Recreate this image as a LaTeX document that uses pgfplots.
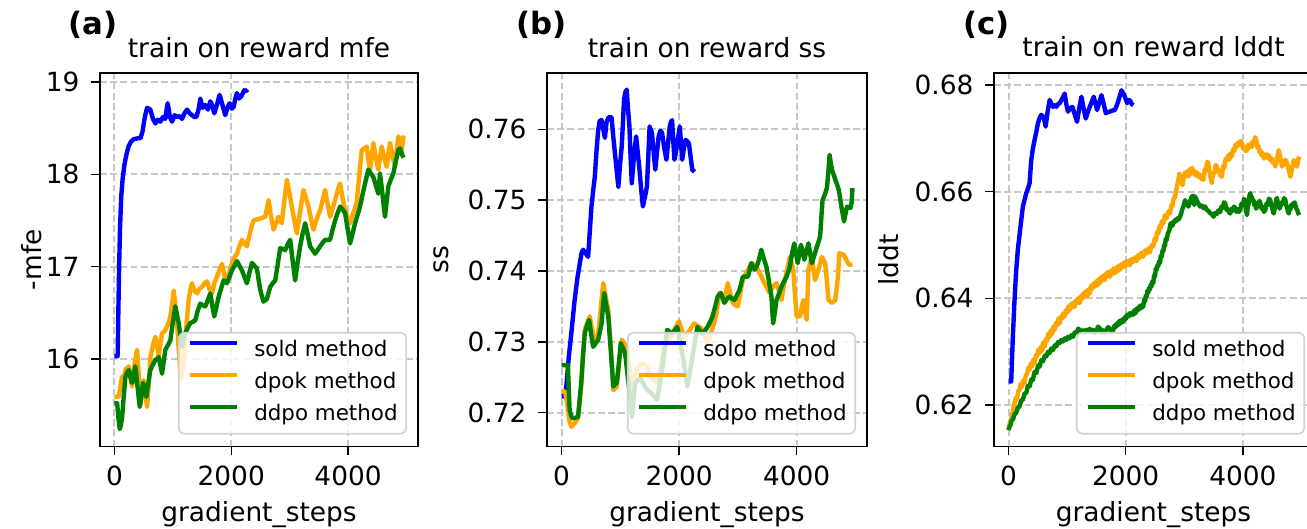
\documentclass[border=0pt]{standalone}
\usepackage{fontspec}
\setmainfont{DejaVu Sans}
\usepackage{pgfplots}
\pgfplotsset{compat=1.18}

\definecolor{cblue}{RGB}{0,0,255}
\definecolor{corange}{RGB}{255,165,0}
\definecolor{cgreen}{RGB}{0,128,0}
\definecolor{gridgray}{RGB}{200,200,200}
\definecolor{leggray}{RGB}{210,210,210}

\newcommand{\tf}{\fontsize{13.2}{15.8}\selectfont}
\newcommand{\lf}{\fontsize{10.7}{12.8}\selectfont}
\newcommand{\pf}{\bfseries\fontsize{15.4}{18}\selectfont}

\pgfplotsset{
  every axis title shift=0pt,
  myaxis/.style={
    scale only axis, height=186.75pt,
    xmin=-247.5, xmax=5197.5,
    xtick={0,2000,4000}, xticklabels={0,2000,4000},
    scaled ticks=false,
    tick align=outside, tick pos=left, major tick length=4.5pt,
    tick style={black, line width=0.75pt},
    axis line style={black, line width=0.75pt},
    grid=major,
    grid style={gridgray, line width=1pt, dash pattern=on 3.4pt off 1.7pt},
    xticklabel style={font=\tf, inner sep=0pt, anchor=base, yshift=-15.25pt},
    yticklabel style={font=\tf, inner sep=0pt, anchor=east, xshift=-5.6pt},
    xlabel={gradient\_steps},
    xlabel style={font=\tf, at={(axis description cs:0.5,-0.2021)}, anchor=base},
    title style={font=\tf, at={(axis description cs:0.5,1.0428)}, anchor=base},
    ylabel style={font=\tf, anchor=center},
    legend cell align=left,
    legend style={anchor=south east, draw=leggray, line width=0.8pt,
      rounded corners=3pt, fill=white, fill opacity=0.8, text opacity=1,
      font=\lf, inner xsep=4.3pt, inner ysep=3pt, row sep=3.5pt, column sep=7.8pt,
      nodes={inner xsep=0pt, inner ysep=1pt, text height=8pt, text depth=2.5pt}},
    legend image code/.code={\draw[#1] (0pt,4.1pt) -- (23.5pt,4.1pt);},
    every axis plot/.append style={line width=2.2pt, line join=round},
  }
}

\begin{document}
\begin{tikzpicture}

% ---------------- (a) ----------------
\begin{axis}[myaxis, at={(50pt,41.25pt)}, anchor=south west, width=159pt,
  ymin=15.052, ymax=19.097,
  ytick={16,17,18,19}, yticklabels={16,17,18,19},
  title={train on reward mfe},
  ylabel={-mfe}, ylabel style={at={(axis description cs:-0.2138,0.5)}},
  legend style={at={(axis description cs:0.9654,0.0321)}}]
\addplot[cblue] coordinates {
(0,16.03) (55,16.03) (65,16.45) (80,17.0) (95,17.4) (115,17.75) (140,17.95) (170,18.1) (200,18.2) (240,18.3) (280,18.35) (330,18.38) (400,18.39) (444,18.39) (480,18.46) (520,18.62) (559,18.72) (615,18.70) (660,18.6) (701,18.55) (740,18.59) (786,18.57) (830,18.62) (870,18.6) (911,18.77) (950,18.62) (986,18.57) (1030,18.64) (1071,18.62) (1110,18.63) (1157,18.60) (1200,18.66) (1243,18.70) (1290,18.66) (1328,18.64) (1370,18.62) (1402,18.62) (1440,18.7) (1470,18.82) (1510,18.72) (1556,18.75) (1600,18.70) (1641,18.79) (1680,18.74) (1709,18.66) (1750,18.74) (1800,18.86) (1850,18.75) (1897,18.64) (1935,18.72) (1972,18.77) (2010,18.71) (2040,18.73) (2070,18.82) (2097,18.88) (2130,18.82) (2166,18.84) (2200,18.88) (2222,18.91) (2250,18.90) (2279,18.92)
};
\addlegendentry{sold method}
\addplot[corange] coordinates {
(0,15.59) (74,15.59) (100,15.70) (131,15.81) (160,15.78) (188,15.88) (215,15.90) (245,15.92) (275,15.80) (302,15.70) (345,15.95) (387,16.10) (415,15.85) (444,15.50) (470,15.62) (501,15.77) (530,15.62) (559,15.48) (590,15.75) (615,16.02) (660,16.15) (701,16.24) (730,16.15) (758,16.02) (790,16.18) (815,16.28) (860,16.30) (900,16.35) (930,16.40) (957,16.46) (990,16.60) (1014,16.74) (1040,16.60) (1071,16.40) (1100,16.10) (1135,15.78) (1160,15.85) (1185,15.99) (1230,16.35) (1271,16.64) (1300,16.75) (1328,16.82) (1370,16.74) (1413,16.71) (1455,16.76) (1499,16.78) (1540,16.82) (1584,16.84) (1625,16.76) (1670,16.71) (1710,16.82) (1755,16.89) (1800,16.97) (1841,17.03) (1885,16.90) (1926,16.82) (1970,16.95) (2012,17.04) (2055,17.10) (2097,17.14) (2140,17.22) (2183,17.29) (2225,17.25) (2268,17.22) (2325,17.38) (2382,17.50) (2440,17.51) (2496,17.52) (2540,17.53) (2581,17.54) (2610,17.63) (2638,17.72) (2680,17.55) (2724,17.40) (2765,17.47) (2809,17.54) (2840,17.50) (2866,17.47) (2910,17.72) (2952,17.94) (2995,17.80) (3037,17.65) (3080,17.50) (3123,17.36) (3180,17.60) (3236,17.83) (3280,17.74) (3322,17.65) (3365,17.52) (3407,17.40) (3465,17.52) (3521,17.61) (3565,17.72) (3607,17.83) (3650,17.68) (3692,17.54) (3735,17.63) (3778,17.72) (3820,17.82) (3863,17.90) (3905,17.75) (3949,17.61) (3990,17.54) (4034,17.47) (4090,17.58) (4148,17.69) (4190,17.98) (4234,18.26) (4275,18.28) (4319,18.30) (4350,18.15) (4376,18.05) (4405,18.20) (4433,18.34) (4475,18.18) (4518,18.05) (4548,18.18) (4576,18.30) (4620,18.18) (4661,18.08) (4690,18.22) (4718,18.34) (4760,18.20) (4803,18.08) (4832,18.25) (4860,18.41) (4890,18.32) (4915,18.22) (4935,18.35) (4950,18.42)
};
\addlegendentry{dpok method}
\addplot[cgreen] coordinates {
(0,15.52) (46,15.52) (70,15.35) (91,15.24) (110,15.28) (131,15.37) (160,15.60) (188,15.81) (215,15.85) (245,15.88) (275,15.80) (302,15.74) (330,15.84) (359,15.92) (395,15.70) (433,15.48) (460,15.60) (490,15.74) (520,15.66) (547,15.59) (580,15.74) (615,15.88) (660,15.94) (701,15.99) (730,16.00) (758,16.02) (790,15.92) (815,15.84) (845,15.98) (872,16.10) (915,16.15) (957,16.20) (1000,16.40) (1043,16.57) (1070,16.48) (1100,16.39) (1130,16.25) (1157,16.13) (1185,16.20) (1214,16.28) (1255,16.34) (1299,16.39) (1340,16.40) (1385,16.42) (1425,16.52) (1470,16.60) (1515,16.58) (1556,16.57) (1600,16.64) (1641,16.71) (1675,16.58) (1709,16.46) (1745,16.56) (1783,16.67) (1825,16.76) (1869,16.85) (1900,16.84) (1926,16.82) (1970,16.89) (2012,16.96) (2055,17.01) (2097,17.06) (2140,17.01) (2183,16.96) (2225,16.89) (2268,16.82) (2310,16.93) (2354,17.04) (2395,17.01) (2439,16.98) (2468,16.86) (2496,16.75) (2525,16.68) (2552,16.62) (2610,16.65) (2667,16.78) (2710,16.82) (2752,16.85) (2795,17.02) (2838,17.20) (2880,17.19) (2923,17.18) (2965,17.24) (3009,17.29) (3050,17.07) (3094,16.85) (3135,17.04) (3179,17.22) (3220,17.35) (3265,17.47) (3308,17.35) (3350,17.22) (3393,17.18) (3436,17.14) (3480,17.18) (3521,17.22) (3565,17.26) (3607,17.29) (3650,17.29) (3692,17.29) (3735,17.40) (3778,17.50) (3820,17.58) (3863,17.65) (3905,17.62) (3949,17.58) (3990,17.42) (4034,17.25) (4078,17.36) (4120,17.47) (4163,17.56) (4205,17.65) (4248,17.78) (4291,17.90) (4320,17.98) (4348,18.05) (4390,18.01) (4433,17.97) (4475,17.88) (4518,17.79) (4547,18.01) (4590,17.78) (4632,17.54) (4660,17.70) (4690,17.87) (4730,17.94) (4775,18.01) (4818,18.14) (4860,18.26) (4890,18.28) (4920,18.22) (4950,18.18)
};
\addlegendentry{ddpo method}
\end{axis}

% ---------------- (b) ----------------
\begin{axis}[myaxis, at={(273.5pt,41.25pt)}, anchor=south west, width=160pt,
  ymin=0.71523, ymax=0.76795,
  ytick={0.72,0.73,0.74,0.75,0.76}, yticklabels={0.72,0.73,0.74,0.75,0.76},
  title={train on reward ss},
  ylabel={ss}, ylabel style={at={(axis description cs:-0.331,0.5)}},
  legend style={at={(axis description cs:0.9656,0.0321)}}]
\addplot[cblue] coordinates {
(0,0.7223) (51,0.7223) (81,0.7237) (125,0.7280) (166,0.7312) (223,0.7359) (270,0.7390) (309,0.7410) (340,0.7425) (366,0.7430) (410,0.7425) (452,0.7420) (480,0.7455) (509,0.7491) (540,0.7515) (566,0.7533) (595,0.7570) (624,0.7599) (650,0.7612) (681,0.7613) (710,0.7600) (738,0.7588) (765,0.7610) (795,0.7616) (825,0.7618) (852,0.7616) (880,0.7590) (909,0.7566) (940,0.7540) (967,0.7519) (995,0.7550) (1024,0.7576) (1045,0.7610) (1063,0.7642) (1085,0.7652) (1109,0.7656) (1130,0.7630) (1155,0.7604) (1175,0.7560) (1195,0.7524) (1230,0.7560) (1269,0.7590) (1300,0.7565) (1326,0.7543) (1355,0.7515) (1384,0.7491) (1420,0.7505) (1453,0.7519) (1475,0.7560) (1498,0.7604) (1538,0.7595) (1565,0.7570) (1595,0.7543) (1625,0.7568) (1652,0.7590) (1680,0.7598) (1710,0.7595) (1745,0.7575) (1784,0.7557) (1812,0.7580) (1841,0.7604) (1860,0.7610) (1881,0.7613) (1900,0.7585) (1921,0.7557) (1945,0.7568) (1967,0.7580) (1990,0.7592) (2012,0.7604) (2033,0.7580) (2053,0.7557) (2080,0.7572) (2110,0.7585) (2140,0.7583) (2167,0.7580) (2195,0.7562) (2224,0.7543) (2264,0.7540)
};
\addlegendentry{sold method}
\addplot[corange] coordinates {
(0,0.7230) (60,0.7230) (100,0.7210) (130,0.7190) (166,0.7180) (223,0.7185) (280,0.7192) (310,0.7215) (338,0.7240) (365,0.7280) (395,0.7317) (440,0.7328) (481,0.7336) (520,0.7318) (560,0.7300) (590,0.7305) (623,0.7310) (665,0.7345) (709,0.7383) (750,0.7364) (795,0.7345) (840,0.7290) (881,0.7232) (910,0.7234) (939,0.7236) (980,0.7270) (1024,0.7303) (1067,0.7298) (1110,0.7293) (1155,0.7265) (1197,0.7237) (1240,0.7249) (1282,0.7260) (1325,0.7265) (1368,0.7270) (1410,0.7268) (1454,0.7265) (1480,0.7258) (1511,0.7251) (1570,0.7247) (1626,0.7242) (1685,0.7265) (1740,0.7289) (1800,0.7298) (1854,0.7307) (1925,0.7318) (1997,0.7329) (2040,0.7318) (2083,0.7307) (2130,0.7311) (2170,0.7315) (2210,0.7320) (2254,0.7326) (2310,0.7323) (2370,0.7320) (2430,0.7309) (2484,0.7298) (2560,0.7317) (2627,0.7336) (2655,0.7352) (2684,0.7369) (2725,0.7364) (2769,0.7359) (2800,0.7371) (2827,0.7383) (2870,0.7369) (2913,0.7355) (2955,0.7352) (2999,0.7350) (3040,0.7368) (3085,0.7387) (3140,0.7397) (3199,0.7406) (3256,0.7411) (3300,0.7406) (3342,0.7402) (3385,0.7395) (3428,0.7387) (3485,0.7378) (3542,0.7369) (3571,0.7374) (3600,0.7378) (3657,0.7383) (3700,0.7371) (3743,0.7359) (3770,0.7373) (3800,0.7387) (3845,0.7404) (3885,0.7420) (3915,0.7411) (3942,0.7402) (3970,0.7369) (4000,0.7336) (4057,0.7336) (4085,0.7348) (4114,0.7359) (4140,0.7345) (4171,0.7331) (4186,0.7366) (4200,0.7402) (4230,0.7411) (4257,0.7420) (4285,0.7403) (4314,0.7387) (4345,0.7395) (4372,0.7402) (4400,0.7411) (4429,0.7420) (4460,0.7415) (4486,0.7411) (4515,0.7385) (4543,0.7359) (4570,0.7357) (4601,0.7355) (4630,0.7357) (4658,0.7359) (4680,0.7375) (4704,0.7392) (4726,0.7425) (4765,0.7424) (4802,0.7423) (4845,0.7416) (4888,0.7409) (4950,0.7409)
};
\addlegendentry{dpok method}
\addplot[cgreen] coordinates {
(0,0.7267) (108,0.7267) (137,0.7204) (165,0.7195) (194,0.7192) (240,0.7193) (280,0.7194) (310,0.7220) (338,0.7246) (365,0.7280) (395,0.7312) (430,0.7322) (469,0.7331) (505,0.7310) (538,0.7293) (580,0.7298) (623,0.7303) (655,0.7315) (681,0.7326) (705,0.7350) (726,0.7369) (760,0.7352) (795,0.7336) (840,0.7285) (881,0.7237) (910,0.7240) (939,0.7242) (975,0.7270) (1008,0.7298) (1045,0.7291) (1082,0.7284) (1110,0.7263) (1139,0.7242) (1170,0.7218) (1197,0.7194) (1225,0.7218) (1253,0.7242) (1300,0.7246) (1340,0.7250) (1385,0.7242) (1430,0.7235) (1475,0.7231) (1520,0.7228) (1575,0.7223) (1626,0.7218) (1670,0.7240) (1711,0.7260) (1755,0.7290) (1797,0.7317) (1840,0.7314) (1883,0.7312) (1925,0.7316) (1969,0.7321) (2012,0.7302) (2055,0.7284) (2100,0.7260) (2141,0.7237) (2185,0.7258) (2226,0.7279) (2270,0.7300) (2312,0.7321) (2355,0.7316) (2398,0.7312) (2440,0.7316) (2484,0.7321) (2527,0.7328) (2570,0.7336) (2615,0.7350) (2656,0.7364) (2712,0.7369) (2740,0.7362) (2769,0.7355) (2810,0.7360) (2855,0.7364) (2900,0.7361) (2941,0.7359) (2985,0.7366) (3027,0.7373) (3055,0.7382) (3085,0.7392) (3130,0.7392) (3171,0.7392) (3200,0.7401) (3227,0.7411) (3255,0.7406) (3285,0.7402) (3315,0.7406) (3342,0.7411) (3370,0.7420) (3399,0.7430) (3440,0.7418) (3485,0.7406) (3530,0.7385) (3571,0.7364) (3600,0.7326) (3630,0.7342) (3657,0.7359) (3700,0.7368) (3743,0.7378) (3785,0.7385) (3828,0.7392) (3860,0.7399) (3885,0.7406) (3903,0.7416) (3930,0.7428) (3961,0.7439) (3990,0.7425) (4017,0.7411) (4045,0.7424) (4074,0.7437) (4103,0.7427) (4132,0.7416) (4165,0.7428) (4201,0.7439) (4230,0.7425) (4258,0.7411) (4300,0.7422) (4343,0.7434) (4372,0.7441) (4400,0.7449) (4420,0.7475) (4441,0.7500) (4480,0.7508) (4515,0.7517) (4540,0.7540) (4561,0.7564) (4580,0.7553) (4601,0.7543) (4630,0.7536) (4658,0.7529) (4688,0.7522) (4716,0.7515) (4740,0.7503) (4761,0.7491) (4785,0.7480) (4807,0.7470) (4832,0.7481) (4858,0.7491) (4885,0.7490) (4915,0.7489) (4935,0.7496) (4950,0.7517)
};
\addlegendentry{ddpo method}
\end{axis}

% ---------------- (c) ----------------
\begin{axis}[myaxis, at={(497pt,41.25pt)}, anchor=south west, width=159.5pt,
  ymin=0.61222, ymax=0.68225,
  ytick={0.62,0.64,0.66,0.68}, yticklabels={0.62,0.64,0.66,0.68},
  title={train on reward lddt},
  ylabel={lddt}, ylabel style={at={(axis description cs:-0.3292,0.5)}},
  legend style={at={(axis description cs:0.975,0.0321)}}]
\addplot[cblue] coordinates {
(0,0.6244) (46,0.6244) (75,0.6330) (103,0.6397) (130,0.6450) (159,0.6491) (200,0.6530) (245,0.6572) (275,0.6585) (302,0.6597) (330,0.6605) (360,0.6616) (388,0.6659) (415,0.6680) (445,0.6697) (475,0.6712) (502,0.6728) (530,0.6738) (559,0.6744) (600,0.6740) (634,0.6722) (665,0.6748) (702,0.6772) (730,0.6765) (759,0.6759) (790,0.6762) (816,0.6759) (845,0.6764) (873,0.6766) (915,0.6774) (959,0.6784) (985,0.6765) (1016,0.6750) (1050,0.6756) (1091,0.6759) (1130,0.6745) (1170,0.6731) (1205,0.6755) (1245,0.6778) (1280,0.6757) (1318,0.6737) (1350,0.6748) (1387,0.6759) (1420,0.6768) (1455,0.6778) (1485,0.6765) (1512,0.6753) (1550,0.6767) (1587,0.6781) (1625,0.6764) (1661,0.6747) (1695,0.6749) (1729,0.6750) (1770,0.6752) (1815,0.6753) (1845,0.6761) (1872,0.6769) (1900,0.6780) (1929,0.6790) (1960,0.6784) (1986,0.6778) (2026,0.6766) (2055,0.6772) (2080,0.6770) (2105,0.6764) (2129,0.6762)
};
\addlegendentry{sold method}
\addplot[corange] coordinates {
(0,0.6153) (25,0.6168) (46,0.6172) (60,0.6184) (75,0.6186) (90,0.6200) (103,0.6203) (125,0.6214) (145,0.6210) (165,0.6226) (188,0.6228) (210,0.6240) (230,0.6234) (250,0.6246) (274,0.6241) (295,0.6256) (315,0.6258) (340,0.6270) (360,0.6266) (380,0.6278) (400,0.6272) (420,0.6285) (445,0.6278) (470,0.6294) (490,0.6292) (510,0.6304) (531,0.6297) (555,0.6310) (575,0.6302) (595,0.6318) (616,0.6309) (640,0.6324) (660,0.6320) (680,0.6334) (702,0.6328) (725,0.6340) (745,0.6333) (765,0.6347) (788,0.6341) (810,0.6354) (830,0.6349) (850,0.6362) (873,0.6353) (895,0.6366) (915,0.6362) (935,0.6372) (959,0.6366) (980,0.6378) (1000,0.6373) (1020,0.6385) (1045,0.6378) (1070,0.6390) (1090,0.6383) (1110,0.6392) (1130,0.6384) (1150,0.6396) (1175,0.6391) (1195,0.6401) (1216,0.6391) (1240,0.6405) (1260,0.6399) (1280,0.6410) (1301,0.6403) (1325,0.6414) (1345,0.6403) (1365,0.6417) (1387,0.6409) (1410,0.6424) (1430,0.6418) (1450,0.6428) (1473,0.6422) (1495,0.6432) (1515,0.6424) (1535,0.6436) (1558,0.6428) (1580,0.6440) (1600,0.6433) (1620,0.6443) (1644,0.6434) (1665,0.6447) (1685,0.6441) (1705,0.6450) (1729,0.6440) (1750,0.6452) (1770,0.6445) (1790,0.6456) (1815,0.6447) (1840,0.6458) (1860,0.6450) (1880,0.6461) (1901,0.6453) (1925,0.6464) (1945,0.6458) (1965,0.6467) (1986,0.6459) (2010,0.6470) (2030,0.6463) (2050,0.6471) (2072,0.6462) (2100,0.6474) (2130,0.6468) (2160,0.6477) (2186,0.6470) (2215,0.6481) (2245,0.6476) (2270,0.6486) (2300,0.6478) (2330,0.6490) (2360,0.6484) (2390,0.6494) (2414,0.6486) (2445,0.6500) (2471,0.6497) (2495,0.6512) (2515,0.6508) (2535,0.6524) (2557,0.6522) (2580,0.6536) (2600,0.6532) (2620,0.6545) (2643,0.6541) (2670,0.6556) (2700,0.6550) (2730,0.6563) (2757,0.6559) (2780,0.6575) (2800,0.6572) (2820,0.6588) (2842,0.6590) (2870,0.6606) (2899,0.6622) (2916,0.6634) (2935,0.6618) (2950,0.6625) (2970,0.6612) (2985,0.6622) (3010,0.6636) (3030,0.6630) (3050,0.6638) (3070,0.6628) (3090,0.6642) (3115,0.6633) (3135,0.6645) (3156,0.6634) (3180,0.6638) (3200,0.6630) (3220,0.6636) (3241,0.6628) (3265,0.6632) (3285,0.6624) (3305,0.6630) (3327,0.6622) (3350,0.6642) (3370,0.6640) (3390,0.6656) (3413,0.6653) (3440,0.6632) (3470,0.6616) (3490,0.6632) (3515,0.6635) (3535,0.6650) (3556,0.6647) (3580,0.6640) (3600,0.6636) (3620,0.6630) (3641,0.6628) (3665,0.6648) (3685,0.6645) (3705,0.6661) (3727,0.6659) (3750,0.6668) (3770,0.6660) (3790,0.6672) (3813,0.6666) (3835,0.6680) (3855,0.6676) (3875,0.6688) (3898,0.6684) (3920,0.6692) (3940,0.6688) (3960,0.6695) (3984,0.6691) (4005,0.6680) (4028,0.6684) (4050,0.6676) (4070,0.6678) (4090,0.6688) (4110,0.6682) (4130,0.6690) (4155,0.6684) (4170,0.6694) (4190,0.6690) (4210,0.6702) (4229,0.6697) (4250,0.6682) (4265,0.6686) (4280,0.6674) (4298,0.6678) (4320,0.6668) (4340,0.6672) (4360,0.6662) (4384,0.6666) (4405,0.6670) (4425,0.6663) (4445,0.6668) (4469,0.6659) (4490,0.6662) (4510,0.6654) (4530,0.6660) (4555,0.6647) (4585,0.6662) (4612,0.6678) (4640,0.6662) (4669,0.6647) (4690,0.6658) (4710,0.6651) (4730,0.6660) (4755,0.6653) (4785,0.6640) (4812,0.6628) (4840,0.6643) (4869,0.6659) (4900,0.6652) (4926,0.6647) (4945,0.6660) (4960,0.6666)
};
\addlegendentry{dpok method}
\addplot[cgreen] coordinates {
(0,0.6153) (20,0.6160) (35,0.6163) (55,0.6172) (74,0.6172) (100,0.6182) (130,0.6185) (160,0.6195) (188,0.6197) (215,0.6208) (245,0.6210) (275,0.6222) (302,0.6222) (330,0.6236) (360,0.6235) (390,0.6248) (416,0.6247) (445,0.6262) (475,0.6260) (505,0.6274) (531,0.6272) (560,0.6284) (590,0.6282) (620,0.6293) (645,0.6291) (675,0.6300) (700,0.6297) (730,0.6306) (759,0.6303) (790,0.6312) (815,0.6310) (845,0.6318) (873,0.6316) (900,0.6322) (930,0.6319) (960,0.6325) (988,0.6322) (1015,0.6328) (1045,0.6325) (1075,0.6331) (1102,0.6328) (1130,0.6336) (1160,0.6335) (1190,0.6343) (1216,0.6341) (1245,0.6337) (1275,0.6340) (1300,0.6336) (1330,0.6341) (1360,0.6338) (1385,0.6343) (1415,0.6337) (1444,0.6341) (1470,0.6335) (1500,0.6339) (1530,0.6347) (1558,0.6344) (1585,0.6336) (1615,0.6340) (1645,0.6336) (1673,0.6341) (1700,0.6346) (1730,0.6343) (1760,0.6336) (1787,0.6341) (1810,0.6349) (1830,0.6346) (1850,0.6353) (1872,0.6350) (1895,0.6358) (1915,0.6353) (1935,0.6360) (1958,0.6356) (1980,0.6364) (2000,0.6361) (2020,0.6369) (2044,0.6366) (2065,0.6372) (2085,0.6368) (2105,0.6373) (2129,0.6369) (2150,0.6378) (2170,0.6372) (2190,0.6381) (2215,0.6378) (2240,0.6386) (2260,0.6381) (2280,0.6388) (2300,0.6384) (2315,0.6398) (2330,0.6394) (2345,0.6406) (2357,0.6403) (2370,0.6414) (2385,0.6410) (2400,0.6420) (2414,0.6416) (2428,0.6426) (2440,0.6422) (2455,0.6432) (2471,0.6428) (2485,0.6444) (2500,0.6440) (2515,0.6456) (2528,0.6453) (2540,0.6462) (2555,0.6460) (2570,0.6470) (2585,0.6466) (2600,0.6480) (2615,0.6478) (2630,0.6490) (2643,0.6488) (2655,0.6500) (2670,0.6498) (2685,0.6512) (2700,0.6509) (2720,0.6522) (2745,0.6527) (2765,0.6540) (2786,0.6541) (2800,0.6536) (2815,0.6544) (2830,0.6542) (2842,0.6547) (2865,0.6545) (2885,0.6550) (2905,0.6548) (2928,0.6553) (2950,0.6560) (2970,0.6568) (2990,0.6574) (3014,0.6584) (3040,0.6578) (3071,0.6572) (3100,0.6582) (3128,0.6591) (3155,0.6592) (3170,0.6575) (3185,0.6591) (3210,0.6584) (3230,0.6580) (3250,0.6576) (3271,0.6572) (3300,0.6574) (3330,0.6569) (3355,0.6572) (3385,0.6566) (3410,0.6564) (3440,0.6560) (3470,0.6558) (3499,0.6553) (3525,0.6560) (3555,0.6558) (3585,0.6565) (3613,0.6562) (3635,0.6572) (3655,0.6570) (3680,0.6580) (3699,0.6578) (3720,0.6566) (3740,0.6568) (3760,0.6562) (3784,0.6559) (3805,0.6568) (3825,0.6564) (3850,0.6572) (3870,0.6569) (3890,0.6562) (3910,0.6567) (3930,0.6562) (3955,0.6566) (3975,0.6577) (4000,0.6575) (4020,0.6586) (4041,0.6584) (4055,0.6565) (4070,0.6556) (4085,0.6572) (4100,0.6578) (4115,0.6594) (4127,0.6597) (4140,0.6588) (4155,0.6590) (4170,0.6582) (4184,0.6584) (4197,0.6574) (4210,0.6578) (4225,0.6568) (4241,0.6572) (4255,0.6580) (4270,0.6575) (4285,0.6583) (4298,0.6578) (4320,0.6568) (4340,0.6572) (4360,0.6562) (4384,0.6566) (4405,0.6578) (4425,0.6575) (4445,0.6587) (4469,0.6584) (4485,0.6574) (4500,0.6571) (4515,0.6562) (4526,0.6559) (4540,0.6566) (4555,0.6574) (4570,0.6586) (4583,0.6588) (4600,0.6576) (4610,0.6580) (4625,0.6568) (4640,0.6572) (4665,0.6580) (4685,0.6578) (4705,0.6588) (4726,0.6584) (4740,0.6574) (4755,0.6571) (4770,0.6562) (4783,0.6559) (4797,0.6568) (4810,0.6566) (4825,0.6575) (4840,0.6572) (4855,0.6578) (4870,0.6574) (4885,0.6580) (4897,0.6575) (4915,0.6568) (4930,0.6565) (4945,0.6560) (4960,0.6556)
};
\addlegendentry{ddpo method}
\end{axis}

\node[anchor=base west, font=\pf, inner sep=0pt] at (34pt,247pt) {(a)};
\node[anchor=base west, font=\pf, inner sep=0pt] at (258pt,247pt) {(b)};
\node[anchor=base west, font=\pf, inner sep=0pt] at (481.5pt,247pt) {(c)};

\pgfresetboundingbox
\useasboundingbox (0pt,0pt) rectangle (653.5pt,264.5pt);
\end{tikzpicture}
\end{document}
